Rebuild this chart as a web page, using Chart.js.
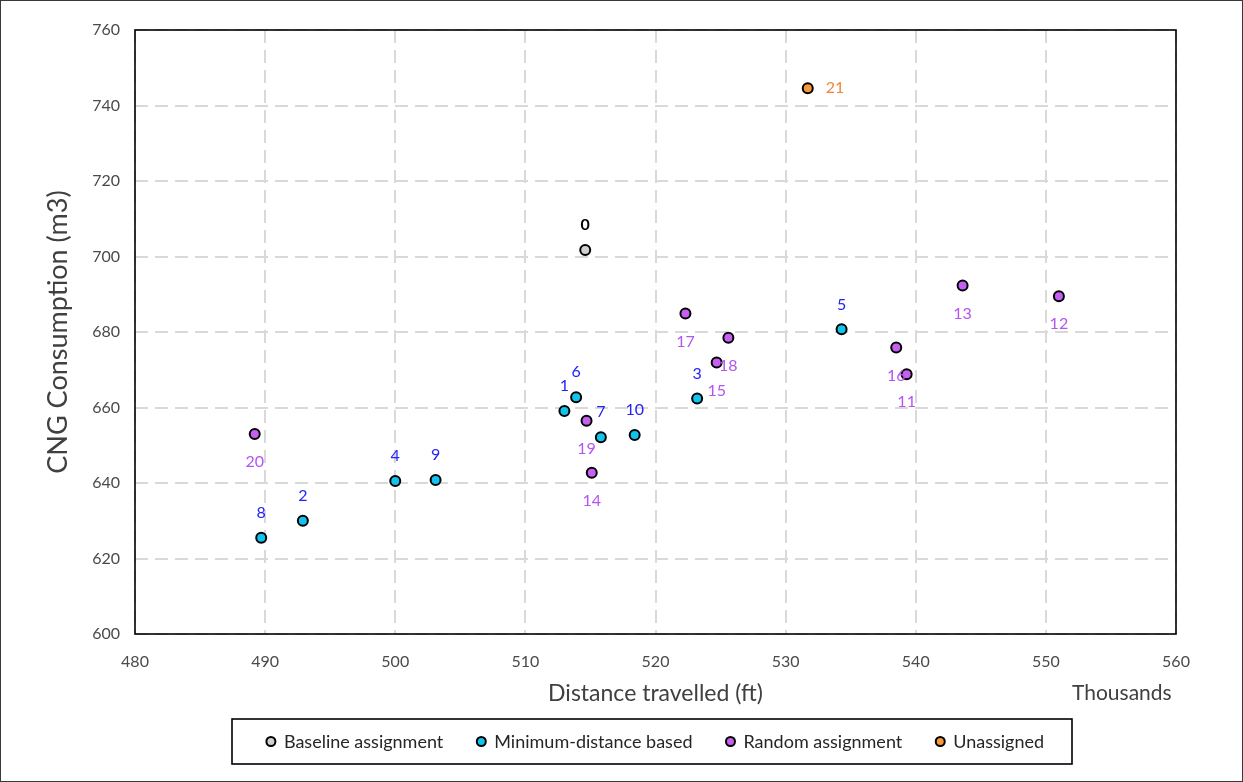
<!DOCTYPE html>
<html>
<head>
<meta charset="utf-8">
<script src="https://cdn.jsdelivr.net/npm/chart.js"></script>
<style>
  html, body { margin: 0; padding: 0; background: #fff; }
  #wrap { width: 1243px; height: 782px; position: relative; }
</style>
</head>
<body>
<div id="wrap"><canvas id="chart" width="1243" height="782"></canvas></div>
<script>
// --- Data (distance in thousands of ft, CNG in m3) ---
const baselineIds = [0];
const baselineX = [514.6];
const baselineY = [701.7];

const minDistIds = [8, 2, 4, 9, 1, 6, 7, 10, 3, 5];
const minDistX = [489.7, 492.9, 500.0, 503.1, 513.0, 513.9, 515.8, 518.4, 523.2, 534.3];
const minDistY = [625.5, 630.0, 640.5, 640.8, 659.1, 662.7, 652.1, 652.7, 662.4, 680.7];

const randomIds = [20, 19, 14, 17, 18, 15, 16, 11, 13, 12];
const randomX = [489.2, 514.7, 515.1, 522.3, 525.6, 524.7, 538.5, 539.3, 543.6, 551.0];
const randomY = [653.0, 656.5, 642.7, 684.9, 678.5, 671.9, 675.9, 668.8, 692.3, 689.5];

const unassignedIds = [21];
const unassignedX = [531.7];
const unassignedY = [744.6];

const seriesNames = ["Baseline assignment", "Minimum-distance based", "Random assignment", "Unassigned"];

const FONT = "Lato, 'Open Sans', sans-serif";

// --- Helpers ---
function toPoints(xs, ys) {
  return xs.map((x, i) => ({ x, y: ys[i] }));
}

function makeSeries(name, xs, ys, ids, fill, labelColor, labelPos, labelBold) {
  return {
    label: name,
    data: toPoints(xs, ys),
    backgroundColor: fill,
    borderColor: "#000",
    borderWidth: 2,
    pointRadius: 5,
    pointHoverRadius: 5,
    showLine: false,
    ids, labelColor, labelPos, labelBold
  };
}

// --- Plugins ---
const pointLabels = {
  id: "pointLabels",
  afterDatasetsDraw(chart) {
    const ctx = chart.ctx;
    chart.data.datasets.forEach((ds, di) => {
      const meta = chart.getDatasetMeta(di);
      ctx.save();
      ctx.fillStyle = ds.labelColor;
      ctx.font = (ds.labelBold ? "bold " : "") + "16px " + FONT;
      ctx.textBaseline = "middle";
      meta.data.forEach((pt, i) => {
        let dx = 0, dy = 0;
        ctx.textAlign = "center";
        if (ds.labelPos === "above") dy = -25;
        if (ds.labelPos === "below") dy = 28;
        if (ds.labelPos === "right") { dx = 18; ctx.textAlign = "left"; }
        ctx.fillText(String(ds.ids[i]), pt.x + dx, pt.y + dy);
      });
      ctx.restore();
    });
  }
};

const frame = {
  id: "frame",
  afterDraw(chart) {
    const { ctx, chartArea: a, width, height } = chart;
    ctx.save();
    ctx.strokeStyle = "#000";
    ctx.lineWidth = 1.6;
    ctx.strokeRect(a.left, a.top, a.right - a.left, a.bottom - a.top);
    // outer chart border
    ctx.lineWidth = 1;
    ctx.strokeStyle = "#3a3a3a";
    ctx.strokeRect(0.5, 0.5, width - 1, height - 1);
    // units note under the x axis
    ctx.fillStyle = "#404040";
    ctx.font = "21px " + FONT;
    ctx.textAlign = "left";
    ctx.textBaseline = "middle";
    ctx.fillText("Thousands", 1072, 693);
    ctx.restore();
  }
};

const legendBox = {
  id: "legendBox",
  afterDraw(chart) {
    const ctx = chart.ctx;
    const box = { left: 232, top: 719, right: 1072, bottom: 764 };
    const cy = (box.top + box.bottom) / 2;
    ctx.save();
    ctx.strokeStyle = "#000";
    ctx.lineWidth = 1.6;
    ctx.strokeRect(box.left, box.top, box.right - box.left, box.bottom - box.top);
    ctx.font = "18px " + FONT;
    ctx.textBaseline = "middle";
    ctx.textAlign = "left";
    const r = 5, gapText = 8, gapItem = 33;
    const items = chart.data.datasets.map(ds => ({
      text: ds.label, color: ds.backgroundColor, w: ctx.measureText(ds.label).width
    }));
    const total = items.reduce((s, it) => s + 2 * r + gapText + it.w, 0) + gapItem * (items.length - 1);
    let x = 655 - total / 2;
    items.forEach(it => {
      ctx.beginPath();
      ctx.arc(x + r, cy, r - 0.5, 0, Math.PI * 2);
      ctx.fillStyle = it.color;
      ctx.fill();
      ctx.lineWidth = 2;
      ctx.strokeStyle = "#000";
      ctx.stroke();
      ctx.fillStyle = "#262626";
      ctx.fillText(it.text, x + 2 * r + gapText, cy + 1);
      x += 2 * r + gapText + it.w + gapItem;
    });
    ctx.restore();
  }
};

// --- Render Chart ---
const ctx = document.getElementById("chart").getContext("2d");

new Chart(ctx, {
  type: "scatter",
  data: {
    datasets: [
      makeSeries(seriesNames[0], baselineX, baselineY, baselineIds, "#d0d0d0", "#000000", "above", true),
      makeSeries(seriesNames[1], minDistX, minDistY, minDistIds, "#10c4ee", "#2323f5", "above", false),
      makeSeries(seriesNames[2], randomX, randomY, randomIds, "#c660f2", "#b454f2", "below", false),
      makeSeries(seriesNames[3], unassignedX, unassignedY, unassignedIds, "#f7983a", "#f0873a", "right", false)
    ]
  },
  options: {
    responsive: false,
    animation: false,
    layout: { padding: { left: 0, right: 67, top: 30, bottom: 0 } },
    plugins: {
      legend: { display: false },
      tooltip: { enabled: false }
    },
    scales: {
      x: {
        type: "linear",
        min: 480,
        max: 560,
        afterFit: (s) => { s.height = 148; },
        ticks: {
          stepSize: 10,
          color: "#4a4a4a",
          font: { family: FONT, size: 16 },
          padding: 18
        },
        grid: { color: "#d9d9d9", lineWidth: 2, drawTicks: false },
        border: { display: false, dash: [13, 7] },
        title: {
          display: true,
          text: "Distance travelled (ft)",
          color: "#404040",
          font: { family: FONT, size: 23 },
          padding: { top: 0, bottom: 75 }
        }
      },
      y: {
        type: "linear",
        min: 600,
        max: 760,
        afterFit: (s) => { s.width = 135; },
        ticks: {
          stepSize: 20,
          color: "#4a4a4a",
          font: { family: FONT, size: 16 },
          padding: 15
        },
        grid: { color: "#d9d9d9", lineWidth: 2, drawTicks: false },
        border: { display: false, dash: [13, 7] },
        title: {
          display: true,
          text: "CNG Consumption (m3)",
          color: "#404040",
          font: { family: FONT, size: 27 },
          padding: { top: 42, bottom: 0 }
        }
      }
    }
  },
  plugins: [pointLabels, frame, legendBox]
});
</script>
</body>
</html>
